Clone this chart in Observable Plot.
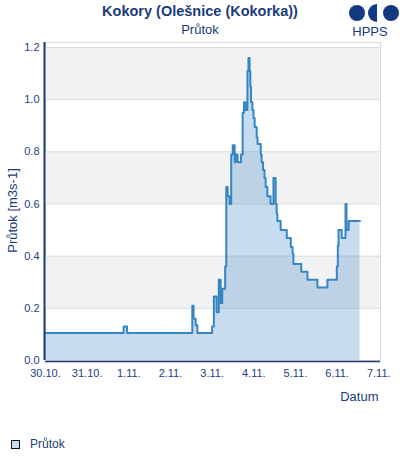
<!DOCTYPE html>
<html><head><meta charset="utf-8">
<script src="https://cdn.jsdelivr.net/npm/d3@7"></script>
<script src="https://cdn.jsdelivr.net/npm/@observablehq/plot@0.6"></script>
<style>
body{margin:0;font-family:"Liberation Sans",Arial,sans-serif;background:#fff;}
#wrap{position:relative;width:400px;height:460px;}
#head{height:36px;position:relative;}
#title{position:absolute;left:0;width:400px;top:3px;text-align:center;font-weight:bold;font-size:14.5px;color:#1a3c7c;}
#sub{position:absolute;left:0;width:400px;top:22px;text-align:center;font-size:13px;color:#1a3c7c;}
#logo{position:absolute;left:340px;top:0px;}
#legend{position:absolute;left:11px;top:437px;font-size:12px;color:#1a3c7c;display:flex;align-items:center;}
#legend span.sw{display:inline-block;width:7px;height:7px;background:#c6ddf0;border:1.5px solid #111;margin-right:10px;}
</style></head><body>
<div id="wrap">
  <div id="head">
    <div id="title">Kokory (Olešnice (Kokorka))</div>
    <div id="sub">Průtok</div>
    <svg id="logo" width="60" height="40">
      <circle cx="17" cy="13" r="8" fill="#133a80"/>
      <path d="M37,4 A9,9 0 0 0 37,22 Z" fill="#133a80"/>
      <circle cx="51" cy="13" r="8" fill="#133a80"/>
      <text x="30" y="36" text-anchor="middle" font-size="13" fill="#1a3c7c" font-family="Liberation Sans, Arial">HPPS</text>
    </svg>
  </div>
  <div id="chart"></div>
  <div id="legend"><span class="sw"></span>Průtok</div>
</div>
<script>
const times = [
 "2020-10-30T00:00","2020-10-31T21:00","2020-10-31T23:00",
 "2020-11-02T12:35","2020-11-02T13:20","2020-11-02T14:30","2020-11-02T15:30",
 "2020-11-03T00:00","2020-11-03T01:00","2020-11-03T02:35","2020-11-03T03:50","2020-11-03T04:55",
 "2020-11-03T05:50","2020-11-03T07:30","2020-11-03T08:10","2020-11-03T08:55","2020-11-03T10:05",
 "2020-11-03T11:00","2020-11-03T11:50","2020-11-03T13:00","2020-11-03T13:35","2020-11-03T14:40",
 "2020-11-03T16:40","2020-11-03T17:35","2020-11-03T18:20","2020-11-03T19:20","2020-11-03T20:20",
 "2020-11-03T20:55","2020-11-03T21:35","2020-11-03T22:00","2020-11-03T22:25","2020-11-03T23:10",
 "2020-11-03T23:50","2020-11-04T00:30","2020-11-04T01:40","2020-11-04T02:10","2020-11-04T04:00",
 "2020-11-04T04:30","2020-11-04T05:20","2020-11-04T06:10","2020-11-04T06:50","2020-11-04T07:50",
 "2020-11-04T09:40","2020-11-04T11:20","2020-11-04T12:35","2020-11-04T13:10","2020-11-04T13:35",
 "2020-11-04T15:30","2020-11-04T19:00","2020-11-04T21:20","2020-11-04T22:20","2020-11-04T22:50",
 "2020-11-05T03:20","2020-11-05T06:55","2020-11-05T12:40","2020-11-05T18:25","2020-11-05T23:50",
 "2020-11-06T00:25","2020-11-06T00:50","2020-11-06T02:40","2020-11-06T04:50","2020-11-06T05:25",
 "2020-11-06T06:40","2020-11-06T13:10"
];
const flow = [
 0.105,0.13,0.105,
 0.21,0.16,0.135,0.105,
 0.13,0.245,0.185,0.31,0.22,
 0.275,0.36,0.665,0.63,0.60,
 0.79,0.825,0.76,0.79,0.76,
 0.79,0.95,0.99,0.96,1.11,
 1.16,1.11,1.05,0.99,0.96,
 0.93,0.895,0.855,0.83,0.79,
 0.76,0.73,0.70,0.665,0.63,
 0.60,0.70,0.60,0.565,0.535,
 0.50,0.47,0.435,0.41,0.37,
 0.34,0.31,0.28,0.31,0.36,
 0.44,0.50,0.47,0.60,0.50,
 0.535,0.535
];
const xTickDates = ["2020-10-30","2020-10-31","2020-11-01","2020-11-02","2020-11-03","2020-11-04","2020-11-05","2020-11-06","2020-11-07"];
const xDomain = ["2020-10-30T00:00","2020-11-07T01:00"];
const yTicks = [0,0.2,0.4,0.6,0.8,1.0,1.2];
const bandLow = [0.2,0.6,1.0];
const bandHigh = [0.4,0.8,1.2];
const seriesName = "Průtok";
const yLabel = "Průtok [m3s-1]";
const xLabel = "Datum";

const parse = s => new Date(s + (s.length > 10 ? "Z" : "T00:00Z"));
const data = times.map((t,i) => ({date: parse(t), value: flow[i]}));
const bands = bandLow.map((lo,i) => ({lo, hi: bandHigh[i]}));
const navy = "#1a3c7c";
const blue = "#3786c4";

const chart = Plot.plot({
  width: 400, height: 380,
  marginLeft: 45, marginRight: 20, marginTop: 6, marginBottom: 56,
  style: {fontFamily: "Liberation Sans, Arial, sans-serif", fontSize: "11px", color: "#24407f", background: "transparent", overflow: "visible"},
  x: {type: "utc", domain: xDomain.map(parse), ticks: xTickDates.map(parse), tickFormat: d3.utcFormat("%-d.%-m."), label: null, tickSize: 0, tickPadding: 9},
  y: {domain: [0, 1.2], ticks: yTicks, tickFormat: d3.format(".1f"), label: null, insetTop: 5, tickSize: 0, tickPadding: 6},
  marks: [
    Plot.frame({stroke: "#d9d9d9"}),
    Plot.rect(bands, {y1: "lo", y2: "hi", fill: "#f2f2f2"}),
    Plot.ruleY(yTicks, {stroke: "#dcdcdc", strokeWidth: 1}),
    Plot.areaY(data, {x: "date", y: "value", curve: "step-after", fill: blue, fillOpacity: 0.28}),
    Plot.lineY(data, {x: "date", y: "value", curve: "step-after", stroke: blue, strokeWidth: 2}),
    Plot.ruleX([parse(xDomain[0])], {stroke: "#1f3677", strokeWidth: 2, dx: -1}),
    Plot.ruleY([0], {stroke: "#1f3677", strokeWidth: 1.5, dy: 1}),
    Plot.text([xLabel], {frameAnchor: "bottom-right", dy: 40, dx: -2, textAnchor: "end", fontSize: 13, fill: navy}),
    Plot.text([yLabel], {frameAnchor: "left", rotate: -90, dx: -33, dy: 9, textAnchor: "middle", fontSize: 13, fill: navy})
  ]
});
document.getElementById("chart").appendChild(chart);
</script>
</body></html>
